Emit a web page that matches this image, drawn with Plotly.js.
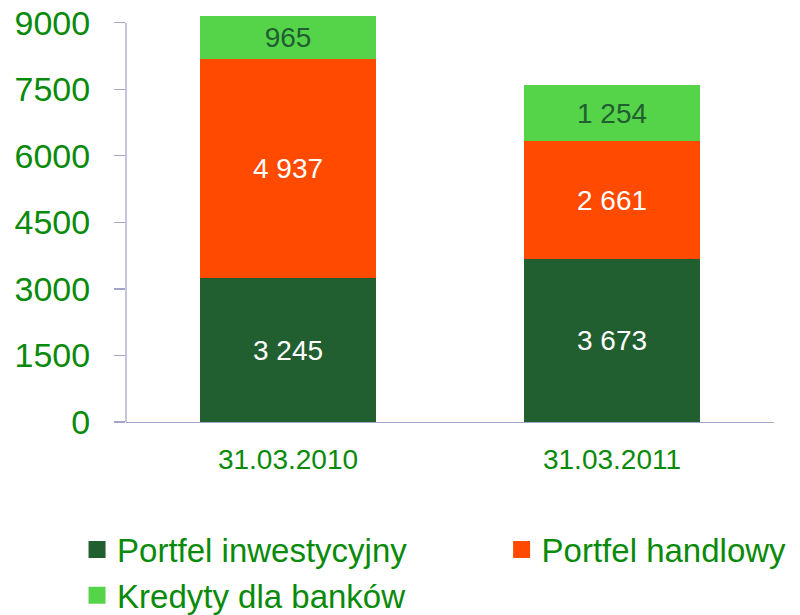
<!DOCTYPE html>
<html>
<head>
<meta charset="utf-8">
<script src="https://cdn.plot.ly/plotly-3.0.1.min.js"></script>
<style>html,body{margin:0;padding:0;background:#fff;}#chart{width:800px;height:615px;}</style>
</head>
<body>
<div id="chart"></div>
<script>
var categories = ['31.03.2010', '31.03.2011'];
var seriesNames = ['Portfel inwestycyjny', 'Portfel handlowy', 'Kredyty dla banków'];
var portfelInwestycyjny = [3245, 3673];
var portfelHandlowy = [4937, 2661];
var kredytyDlaBankow = [965, 1254];
var yTickVals = [0, 1500, 3000, 4500, 6000, 7500, 9000];

var colors = ['#215E30', '#FF4A00', '#55D44A'];
var textColors = ['#FFFFFF', '#FFFFFF', '#215E30'];
var legendIds = ['legend', 'legend2', 'legend'];
var green = '#0A8A0A';
var axisColor = '#A4A4C8';
var font = "'Liberation Sans', Arial, sans-serif";

function fmt(v) { return String(v).replace(/\B(?=(\d{3})+(?!\d))/g, ' '); }

var values = [portfelInwestycyjny, portfelHandlowy, kredytyDlaBankow];
var traces = [];
values.forEach(function (vals, i) {
  traces.push({
    type: 'bar', x: categories, y: vals, name: seriesNames[i],
    showlegend: false,
    marker: {color: colors[i], line: {width: 0}},
    text: vals.map(fmt), textposition: 'inside', insidetextanchor: 'middle',
    textangle: 0,
    textfont: {family: font, size: 28, color: textColors[i]},
    constraintext: 'none', hoverinfo: 'none'
  });
});
// legend entries
values.forEach(function (vals, i) {
  traces.push({
    type: 'bar', x: [categories[0]], y: [null], name: seriesNames[i],
    showlegend: true, legend: legendIds[i], legendgroup: 'g' + i,
    marker: {color: colors[i], line: {color: colors[i], width: 5}},
    hoverinfo: 'none'
  });
});

var legendBase = {
  orientation: 'v', xref: 'container', yref: 'container',
  xanchor: 'left', yanchor: 'top',
  font: {family: font, size: 33, color: green},
  bgcolor: 'rgba(0,0,0,0)', traceorder: 'normal', tracegroupgap: 4
};

var layout = {
  width: 800, height: 615,
  margin: {l: 126, r: 26, t: 14, b: 193, pad: 0, autoexpand: false},
  paper_bgcolor: '#fff', plot_bgcolor: '#fff',
  barmode: 'stack', bargap: 0.454,
  font: {family: font, color: green},
  xaxis: {
    type: 'category', showline: true, linecolor: axisColor, linewidth: 1.3,
    ticks: '', showgrid: false, zeroline: false, automargin: false,
    tickangle: 0,
    tickfont: {family: font, size: 28, color: green},
    ticklabelstandoff: 12
  },
  yaxis: {
    range: [0, 9196], tickvals: yTickVals, ticktext: yTickVals.map(String),
    ticks: 'outside', ticklen: 11, tickcolor: axisColor, tickwidth: 1.3,
    showline: false, showgrid: false, zeroline: false, automargin: false,
    tickfont: {family: font, size: 34, color: green},
    ticklabelstandoff: 17
  },
  shapes: [{
    type: 'line', xref: 'paper', yref: 'y', x0: 0, x1: 0, y0: 0, y1: 9000,
    line: {color: axisColor, width: 1.3}
  }],
  legend: Object.assign({}, legendBase, {x: 0.0963, y: 0.152}),
  legend2: Object.assign({}, legendBase, {x: 0.627, y: 0.152}),
  showlegend: true
};

Plotly.newPlot('chart', traces, layout, {staticPlot: true, displayModeBar: false});
</script>
</body>
</html>
